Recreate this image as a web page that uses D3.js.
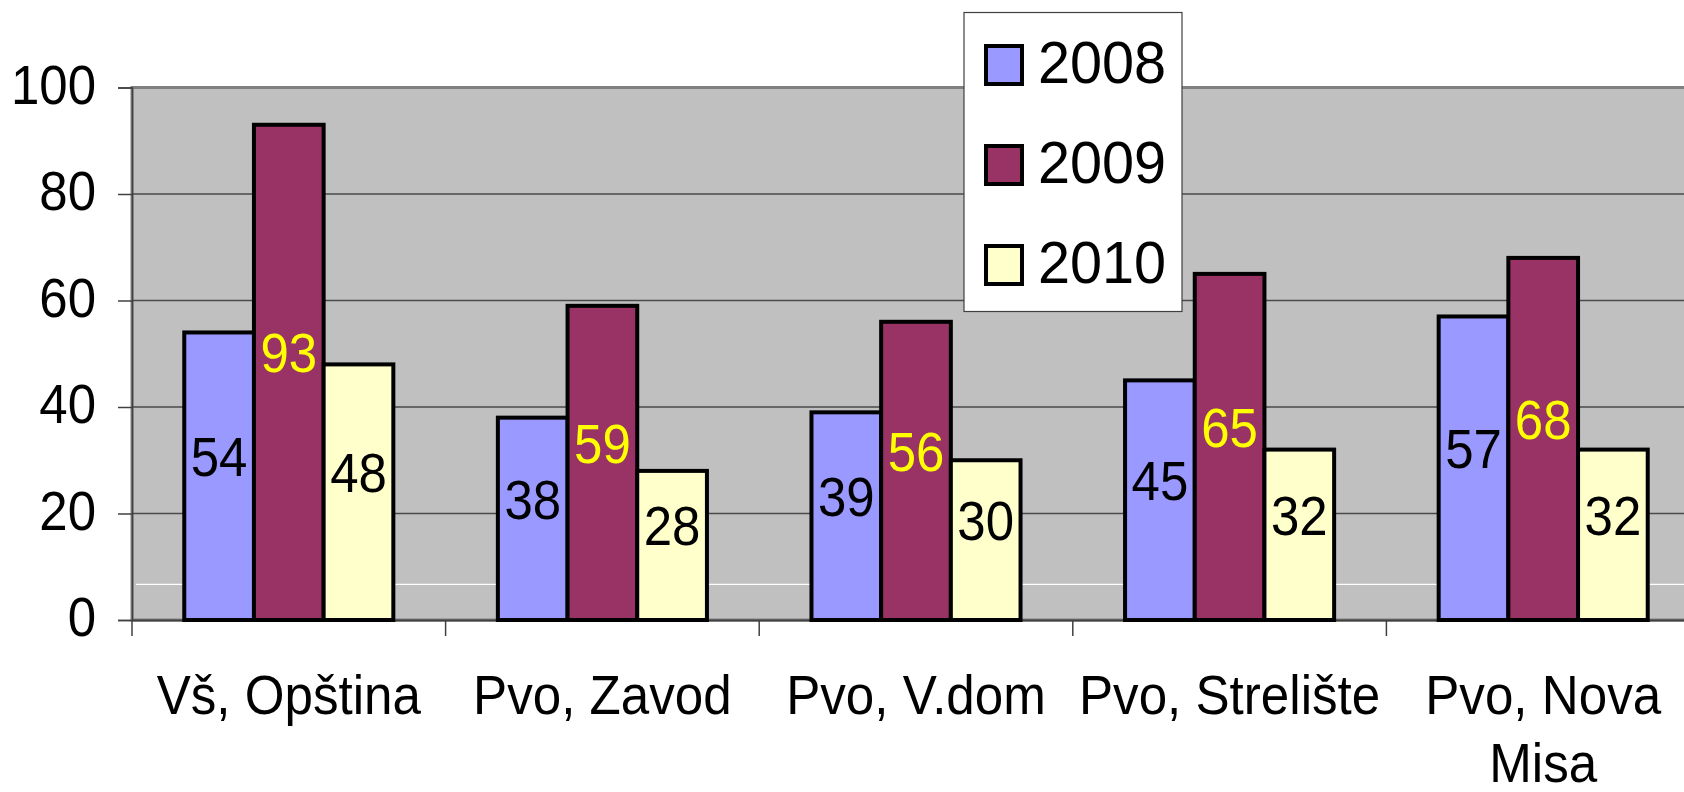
<!DOCTYPE html>
<html>
<head>
<meta charset="utf-8">
<script src="https://cdn.jsdelivr.net/npm/d3@7"></script>
<style>
  html, body { margin: 0; padding: 0; background: #fff; }
  svg { display: block; font-family: "Liberation Sans", Arial, sans-serif; }
</style>
</head>
<body>
<div id="chart"></div>
<script>
// data
const categories = ["Vš, Opština", "Pvo, Zavod", "Pvo, V.dom", "Pvo, Strelište", "Pvo, Nova Misa"];
const years = ["2008", "2009", "2010"];
const values2008 = [54, 38, 39, 45, 57];
const values2009 = [93, 59, 56, 65, 68];
const values2010 = [48, 28, 30, 32, 32];
const yTicks = [0, 20, 40, 60, 80, 100];
const whiteLineValue = 6.7;

const seriesValues = [values2008, values2009, values2010];
const fills = ["#9999FF", "#993366", "#FFFFCC"];
const labelColors = ["#000000", "#FFFF00", "#000000"];

const width = 1684, height = 792;
const plotL = 132, plotR = 1700, plotT = 87.5, plotB = 620;

const svg = d3.select("#chart").append("svg")
    .attr("width", width).attr("height", height);

const x = d3.scaleBand().domain(categories).range([plotL, plotR]).paddingInner(0).paddingOuter(0);
const bw = x.bandwidth() / 4.5;
const xs = d3.scaleBand().domain(years).range([bw * 0.75, bw * 3.75]);
const y = d3.scaleLinear().domain([0, 100]).range([plotB, plotT]);

// plot background
svg.append("rect").attr("x", plotL).attr("y", plotT)
  .attr("width", plotR - plotL).attr("height", plotB - plotT)
  .attr("fill", "#C0C0C0").attr("stroke", "#808080").attr("stroke-width", 3);

// gridlines
svg.append("g").selectAll("line").data(yTicks.filter(d => d > 0 && d < 100)).enter().append("line")
  .attr("x1", plotL).attr("x2", plotR)
  .attr("y1", d => y(d)).attr("y2", d => y(d))
  .attr("stroke", "#4a4a4a").attr("stroke-width", 1.4);

svg.append("line").attr("x1", plotL + 4).attr("x2", plotR)
  .attr("y1", y(whiteLineValue)).attr("y2", y(whiteLineValue))
  .attr("stroke", "#ffffff").attr("stroke-width", 1.2);

// y axis
const yAxis = svg.append("g").attr("transform", `translate(${plotL},0)`)
  .call(d3.axisLeft(y).tickValues(yTicks).tickSize(14).tickFormat(""));
yAxis.select(".domain").attr("stroke", "#404040").attr("stroke-width", 1.5);
yAxis.selectAll(".tick line").attr("stroke", "#404040").attr("stroke-width", 1.5);

svg.append("g").selectAll("text").data(yTicks).enter().append("text")
  .attr("transform", d => `translate(96,${y(d) + 16}) scale(0.91,1)`)
  .attr("text-anchor", "end").attr("font-size", 56).attr("fill", "#000")
  .text(d => d);

// x axis
const xAxis = svg.append("g").attr("transform", `translate(0,${plotB})`)
  .call(d3.axisBottom(x).tickSize(0).tickFormat(""));
xAxis.select(".domain").attr("stroke", "#404040").attr("stroke-width", 2);
xAxis.selectAll(".tick").remove();

svg.append("g").selectAll("line").data(categories).enter().append("line")
  .attr("x1", d => x(d)).attr("x2", d => x(d))
  .attr("y1", plotB).attr("y2", plotB + 16)
  .attr("stroke", "#404040").attr("stroke-width", 1.5);

// category labels, wrapped to the band width
const catLabels = svg.append("g").selectAll("text").data(categories).enter().append("text")
  .attr("transform", d => `translate(${x(d) + x.bandwidth() / 2},714) scale(0.93,1)`)
  .attr("text-anchor", "middle").attr("font-size", 55).attr("fill", "#000");
catLabels.each(function(d) {
  const t = d3.select(this);
  const words = d.split(" ");
  let line = [];
  let ts = t.append("tspan").attr("x", 0).attr("dy", 0);
  words.forEach(w => {
    line.push(w);
    ts.text(line.join(" "));
    if (ts.node().getComputedTextLength() * 0.93 > x.bandwidth() - 8 && line.length > 1) {
      line.pop();
      ts.text(line.join(" "));
      line = [w];
      ts = t.append("tspan").attr("x", 0).attr("dy", 68).text(w);
    }
  });
});

// bars
const groups = svg.append("g").selectAll("g").data(categories).enter().append("g")
  .attr("transform", d => `translate(${x(d)},0)`);

groups.each(function(cat, ci) {
  const g = d3.select(this);
  years.forEach((yr, si) => {
    const v = seriesValues[si][ci];
    g.append("rect")
      .attr("x", xs(yr)).attr("y", y(v))
      .attr("width", xs.bandwidth()).attr("height", y(0) - y(v))
      .attr("fill", fills[si]).attr("stroke", "#000").attr("stroke-width", 4);
  });
  years.forEach((yr, si) => {
    const v = seriesValues[si][ci];
    g.append("text")
      .attr("transform", `translate(${xs(yr) + xs.bandwidth() / 2},${(y(v) + y(0)) / 2}) scale(0.91,1)`)
      .attr("text-anchor", "middle").attr("font-size", 56)
      .attr("fill", labelColors[si]).text(v);
  });
});

// legend
const legend = svg.append("g");
legend.append("rect").attr("x", 964).attr("y", 12.5).attr("width", 218).attr("height", 299)
  .attr("fill", "#fff").attr("stroke", "#404040").attr("stroke-width", 1.2);
const items = legend.selectAll("g.item").data(years).enter().append("g")
  .attr("transform", (d, i) => `translate(986,${46 + i * 100})`);
items.append("rect").attr("width", 36).attr("height", 38)
  .attr("fill", (d, i) => fills[i]).attr("stroke", "#000").attr("stroke-width", 4);
items.append("text")
  .attr("transform", "translate(52,37) scale(0.96,1)")
  .attr("font-size", 60).attr("fill", "#000").text(d => d);
</script>
</body>
</html>
